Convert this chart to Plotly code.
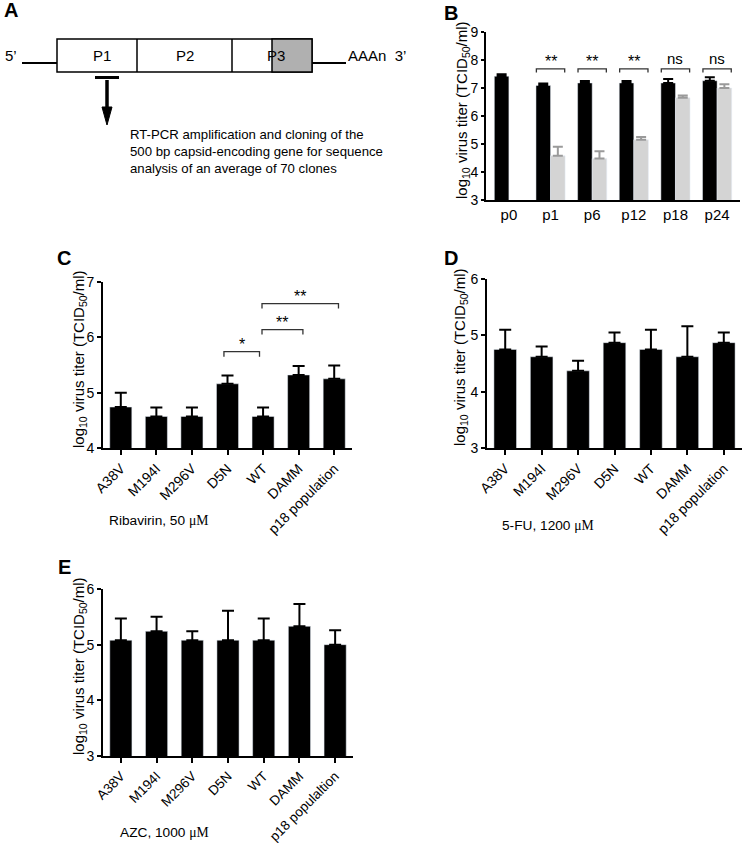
import plotly.graph_objects as go

W, H = 742, 843

# ---------------- data ----------------
B_cats = ["p0", "p1", "p6", "p12", "p18", "p24"]
B_black = [7.42, 7.09, 7.18, 7.18, 7.18, 7.26]
B_black_err = [0.07, 0.07, 0.07, 0.07, 0.14, 0.12]
B_gray = [None, 4.58, 4.48, 5.15, 6.65, 7.00]
B_gray_err = [None, 0.32, 0.26, 0.10, 0.08, 0.13]
B_sig = ["", "**", "**", "**", "ns", "ns"]

C_cats = ["A38V", "M194I", "M296V", "D5N", "WT", "DAMM", "p18 population"]
C_vals = [4.74, 4.57, 4.57, 5.16, 4.57, 5.32, 5.25]
C_err = [0.26, 0.16, 0.16, 0.15, 0.16, 0.16, 0.24]
C_pairs = [("D5N", "WT", "*"), ("WT", "DAMM", "**"), ("WT", "p18 population", "**")]

D_cats = ["A38V", "M194I", "M296V", "D5N", "WT", "DAMM", "p18 population"]
D_vals = [4.75, 4.62, 4.37, 4.87, 4.75, 4.62, 4.87]
D_err = [0.35, 0.18, 0.18, 0.18, 0.35, 0.54, 0.18]

E_cats = ["A38V", "M194I", "M296V", "D5N", "WT", "DAMM", "p18 populaltion"]
E_vals = [5.08, 5.24, 5.08, 5.08, 5.08, 5.33, 5.00]
E_err = [0.39, 0.26, 0.16, 0.53, 0.39, 0.40, 0.26]

A_segments = ["P1", "P2", "P3"]
A_note = ["RT-PCR amplification and cloning of the",
          "500 bp capsid-encoding gene for sequence",
          "analysis of an average of 70 clones"]

FONT = "Liberation Sans, Arial, sans-serif"
SERIF = "Liberation Serif, Times New Roman, serif"


def px(x):
    return x / W


def py(y):
    return 1 - y / H


fig = go.Figure()

# ---------------- panel B ----------------
xb = list(range(len(B_cats)))
fig.add_trace(go.Bar(x=xb, y=B_black, marker_color="black",
                     error_y=dict(type="data", symmetric=False, array=B_black_err,
                                  arrayminus=[0] * len(xb), width=5, thickness=2, color="black"),
                     xaxis="x", yaxis="y", showlegend=False))
fig.add_trace(go.Bar(x=xb, y=B_gray, marker_color="#d4d4d4",
                     error_y=dict(type="data", symmetric=False, array=B_gray_err,
                                  arrayminus=[0] * len(xb), width=5, thickness=2, color="#9a9a9a"),
                     xaxis="x", yaxis="y", showlegend=False))

shapes = []
annotations = []

for i, s in enumerate(B_sig):
    if not s:
        continue
    x0, x1 = i - 0.34, i + 0.34
    shapes.append(dict(type="path", xref="x", yref="y",
                       path=f"M {x0},7.55 L {x0},7.68 L {x1},7.68 L {x1},7.55",
                       line=dict(color="#333", width=1.3)))
    annotations.append(dict(x=i, y=7.68, xref="x", yref="y", text=s, showarrow=False,
                            yanchor="bottom", yshift=(0 if s == "ns" else -3),
                            font=dict(size=(15 if s == "ns" else 16), color="black", family=FONT)))

# ---------------- panels C, D, E ----------------
def add_panel(cats, vals, errs, xa, ya):
    xs = list(range(len(cats)))
    fig.add_trace(go.Bar(x=xs, y=vals, width=0.62, marker_color="black",
                         error_y=dict(type="data", symmetric=False, array=errs,
                                      arrayminus=[0] * len(xs), width=6, thickness=2, color="black"),
                         xaxis=xa, yaxis=ya, showlegend=False))


add_panel(C_cats, C_vals, C_err, "x2", "y2")
add_panel(D_cats, D_vals, D_err, "x3", "y3")
add_panel(E_cats, E_vals, E_err, "x4", "y4")

C_bracket_y = [5.74, 6.14, 6.61]
for (a, b, s), yb in zip(C_pairs, C_bracket_y):
    ia, ib = C_cats.index(a), C_cats.index(b)
    x0 = ia - 0.1 if ia < 4 else ia - 0.03
    x1 = ib - 0.1 if ib == 4 else ib + 0.12
    shapes.append(dict(type="path", xref="x2", yref="y2",
                       path=f"M {x0},{yb-0.09} L {x0},{yb} L {x1},{yb} L {x1},{yb-0.09}",
                       line=dict(color="#333", width=1.3)))
    annotations.append(dict(x=(x0 + x1) / 2, y=yb, xref="x2", yref="y2", text=s, showarrow=False,
                            yanchor="bottom", yshift=-3,
                            font=dict(size=16, color="black", family=FONT)))

# ---------------- axes ----------------
def yax(dom, anchor, rng, tl):
    return dict(domain=dom, anchor=anchor, range=rng, showline=True, linecolor="black", linewidth=2,
                ticks="outside", ticklen=tl, tickwidth=2, tickcolor="black", showgrid=False,
                zeroline=False, automargin=False,
                tickfont=dict(size=14, color="black", family=FONT), dtick=1)


def xax(dom, anchor, rng, cats, angle, ticks, size):
    return dict(domain=dom, anchor=anchor, range=rng, showline=True, linecolor="black", linewidth=2,
                showgrid=False, zeroline=False, automargin=False,
                tickvals=list(range(len(cats))), ticktext=cats, tickangle=angle,
                ticks=ticks, ticklen=5, tickwidth=2, tickcolor="black",
                tickfont=dict(size=size, color="black", family=FONT))


fig.update_layout(
    xaxis=xax([px(486), px(740)], "y", [-0.55, 5.55], B_cats, 0, "", 15),
    yaxis=yax([py(200), py(32)], "x", [3, 9], 3),
    xaxis2=xax([px(103), px(352)], "y2", [-0.5, 6.5], C_cats, -45, "outside", 14),
    yaxis2=yax([py(448), py(282)], "x2", [4, 7], 4),
    xaxis3=xax([px(487), 1.0], "y3", [-0.5, 6.5], D_cats, -45, "outside", 14),
    yaxis3=yax([py(448), py(279)], "x3", [3, 6], 4),
    xaxis4=xax([px(103), px(353)], "y4", [-0.5, 6.5], E_cats, -45, "outside", 13.5),
    yaxis4=yax([py(756), py(589)], "x4", [3, 6], 4),
    barmode="group", bargap=0.3, bargroupgap=0,
)

ytitle = "log<sub>10</sub> virus titer (TCID<sub>50</sub>/ml)"
for xx, yy in [(462, 110), (79, 359), (460, 357), (79, 666)]:
    annotations.append(dict(x=px(xx), y=py(yy), xref="paper", yref="paper", text=ytitle,
                            textangle=-90, showarrow=False, xanchor="center", yanchor="middle",
                            font=dict(size=15, color="black", family=FONT)))

# panel letters
for letter, xx, yy in [("A", 11, 10), ("B", 451, 13), ("C", 64, 258), ("D", 451, 258), ("E", 64, 567)]:
    annotations.append(dict(x=px(xx), y=py(yy), xref="paper", yref="paper", text=f"<b>{letter}</b>",
                            showarrow=False, xanchor="center", yanchor="middle",
                            font=dict(size=20, color="black", family=FONT)))

# captions
for txt, xx, yy in [("Ribavirin, 50 ", 107, 520), ("5-FU, 1200 ", 500, 525), ("AZC, 1000 ", 118, 832)]:
    annotations.append(dict(x=px(xx), y=py(yy), xref="paper", yref="paper",
                            text=txt + f"<span style='font-family:{SERIF}'>μM</span>",
                            showarrow=False, xanchor="left", yanchor="middle",
                            font=dict(size=13.7, color="black", family=FONT)))

# ---------------- panel A diagram ----------------
def rect(x0, y0, x1, y1, fill="white"):
    return dict(type="rect", xref="paper", yref="paper", x0=px(x0), x1=px(x1), y0=py(y1), y1=py(y0),
                line=dict(color="black", width=1.5), fillcolor=fill)


def line(x0, y0, x1, y1, w=2):
    return dict(type="line", xref="paper", yref="paper", x0=px(x0), x1=px(x1), y0=py(y0), y1=py(y1),
                line=dict(color="black", width=w))


shapes += [
    line(22, 63, 57, 63),
    line(312, 63, 346, 63),
    rect(57, 39, 312, 72),
    rect(272, 39, 312, 72, fill="#b0b0b0"),
    line(137, 39, 137, 72, 1.5),
    line(232, 39, 232, 72, 1.5),
    line(95, 77.5, 119, 77.5, 3),
    line(107, 80, 107, 110, 3.5),
    dict(type="path", xref="paper", yref="paper",
         path=f"M {px(102)},{py(107)} L {px(112)},{py(107)} L {px(107)},{py(125)} Z",
         fillcolor="black", line=dict(color="black", width=1)),
]

for lab, xx in zip(A_segments, [102, 185, 276]):
    annotations.append(dict(x=px(xx), y=py(55), xref="paper", yref="paper", text=lab, showarrow=False,
                            xanchor="center", yanchor="middle", font=dict(size=15, color="black", family=FONT)))
annotations.append(dict(x=px(3), y=py(55), xref="paper", yref="paper", text="5’", showarrow=False,
                        xanchor="left", yanchor="middle", font=dict(size=15, color="black", family=FONT)))
annotations.append(dict(x=px(346), y=py(55), xref="paper", yref="paper", text="AAAn  3’", showarrow=False,
                        xanchor="left", yanchor="middle", font=dict(size=15, color="black", family=FONT)))
annotations.append(dict(x=px(128), y=py(152), xref="paper", yref="paper", text="<br>".join(A_note),
                        showarrow=False, xanchor="left", yanchor="middle", align="left",
                        font=dict(size=13.2, color="black", family=FONT)))

fig.update_layout(
    width=W, height=H, margin=dict(l=0, r=0, t=0, b=0, pad=0, autoexpand=False),
    paper_bgcolor="white", plot_bgcolor="white",
    shapes=shapes, annotations=annotations, font=dict(family=FONT, color="black"),
)

fig.write_html("out.html", include_plotlyjs=True, config={"displayModeBar": False},
               post_script="document.body.style.margin='0';document.body.style.overflow='hidden';")
